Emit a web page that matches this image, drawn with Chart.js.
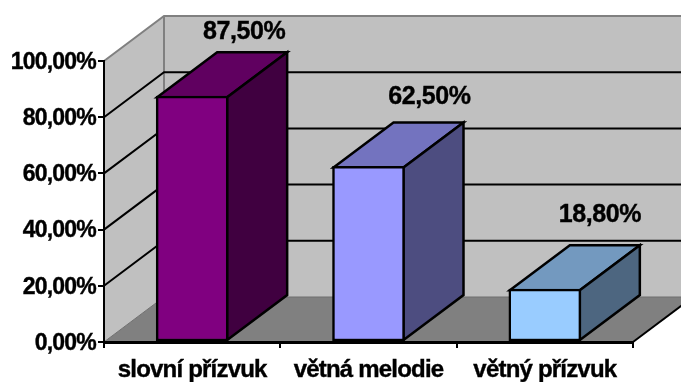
<!DOCTYPE html>
<html>
<head>
<meta charset="utf-8">
<title>Přízvuk a melodie</title>
<script src="https://cdn.jsdelivr.net/npm/chart.js@4"></script>
<style>
  html, body { margin: 0; padding: 0; background: #ffffff; }
  canvas { display: block; }
</style>
</head>
<body>
<canvas id="myChart" width="681" height="382"></canvas>
<script>
'use strict';

//chart data
let categories = ['slovní přízvuk', 'větná melodie', 'větný přízvuk'];
let percentValues = [87.5, 62.5, 18.8];
let frontColors = ['#800080', '#9999ff', '#99ccff'];
let topColors = ['#600060', '#7373bf', '#7399bf'];
let sideColors = ['#400040', '#4d4d80', '#4d6680'];

//depth of the fake 3d box
let depthX = 60;
let depthY = 45;

//value labels sit by hand above each bar, measured from the front top edge
let labelShiftX = [52, 61, 55];
let labelShiftY = [-64, -69, -74];

function formatPercent(value){
  return value.toFixed(2).replace('.', ',') + '%';
}

function fillShape(ctx, points, fill, stroke, lineWidth){
  ctx.beginPath();
  ctx.moveTo(points[0][0], points[0][1]);
  for(let i = 1; i < points.length; i++){
    ctx.lineTo(points[i][0], points[i][1]);
  }
  ctx.closePath();
  ctx.fillStyle = fill;
  ctx.fill();
  if(stroke){
    ctx.strokeStyle = stroke;
    ctx.lineWidth = lineWidth;
    ctx.lineJoin = 'miter';
    ctx.stroke();
  }
}

//walls, floor and gridlines behind the bars
let boxPlugin = {
  id: 'box',
  beforeDraw(chart){
    let ctx = chart.ctx;
    let xScale = chart.scales.x;
    let yScale = chart.scales.y;
    let left = xScale.left;
    let right = xScale.right;
    let top = yScale.top;
    let bottom = yScale.bottom;

    //tighter tracking for the axis text
    ctx.letterSpacing = '-0.8px';

    ctx.save();
    fillShape(ctx, [[left, top], [left + depthX, top - depthY], [left + depthX, bottom - depthY], [left, bottom]], '#c0c0c0');
    fillShape(ctx, [[left + depthX, top - depthY], [right + depthX, top - depthY], [right + depthX, bottom - depthY], [left + depthX, bottom - depthY]], '#c0c0c0');

    //wall outline
    ctx.strokeStyle = '#808080';
    ctx.lineWidth = 2;
    ctx.beginPath();
    ctx.moveTo(left, top);
    ctx.lineTo(left + depthX, top - depthY);
    ctx.lineTo(right + depthX, top - depthY);
    ctx.moveTo(left + depthX, top - depthY);
    ctx.lineTo(left + depthX, bottom - depthY);
    ctx.stroke();

    //gridlines run along the side wall and then across the back
    ctx.strokeStyle = '#000000';
    ctx.lineWidth = 2;
    yScale.ticks.forEach(tick => {
      if(tick.value === yScale.min || tick.value === yScale.max){
        return;
      }
      let y = yScale.getPixelForValue(tick.value);
      ctx.beginPath();
      ctx.moveTo(left, y);
      ctx.lineTo(left + depthX, y - depthY);
      ctx.lineTo(right + depthX, y - depthY);
      ctx.stroke();
    });

    fillShape(ctx, [[left, bottom], [left + depthX, bottom - depthY], [right + depthX, bottom - depthY], [right, bottom]], '#808080');
    ctx.strokeStyle = '#6e6e6e';
    ctx.lineWidth = 1;
    ctx.beginPath();
    ctx.moveTo(left, bottom);
    ctx.lineTo(left + depthX, bottom - depthY);
    ctx.lineTo(right + depthX, bottom - depthY);
    ctx.stroke();

    //right edge of the floor
    ctx.strokeStyle = '#000000';
    ctx.lineWidth = 2;
    ctx.beginPath();
    ctx.moveTo(right, bottom);
    ctx.lineTo(right + depthX, bottom - depthY);
    ctx.stroke();
    ctx.restore();
  },
  beforeDatasetsDraw(chart){
    let ctx = chart.ctx;
    let bars = chart.getDatasetMeta(0).data;
    ctx.save();
    bars.forEach((bar, i) => {
      let x0 = bar.x - bar.width / 2 + 1;
      let x1 = bar.x + bar.width / 2 - 1;
      let yTop = bar.y + 1;
      let yBase = bar.base - 1;
      fillShape(ctx, [[x0, yTop], [x0 + depthX, yTop - depthY], [x1 + depthX, yTop - depthY], [x1, yTop]], topColors[i], '#000000', 2.5);
      fillShape(ctx, [[x1, yTop], [x1 + depthX, yTop - depthY], [x1 + depthX, yBase - depthY], [x1, yBase]], sideColors[i], '#000000', 2.5);
    });
    ctx.restore();
  },
  afterDraw(chart){
    let ctx = chart.ctx;
    let bars = chart.getDatasetMeta(0).data;
    ctx.save();
    ctx.letterSpacing = '-0.4px';
    ctx.fillStyle = '#000000';
    ctx.strokeStyle = '#000000';
    ctx.lineWidth = 0.4;
    ctx.font = 'bold 25px "Liberation Sans"';
    ctx.textAlign = 'center';
    ctx.textBaseline = 'middle';
    bars.forEach((bar, i) => {
      let label = formatPercent(percentValues[i]);
      ctx.fillText(label, bar.x + labelShiftX[i], bar.y + labelShiftY[i]);
      ctx.strokeText(label, bar.x + labelShiftX[i], bar.y + labelShiftY[i]);
    });
    ctx.restore();
  }
};

new Chart(document.getElementById('myChart'), {
  type: 'bar',
  data: {
    labels: categories,
    datasets: [{
      data: percentValues,
      backgroundColor: frontColors,
      borderColor: '#000000',
      borderWidth: 2.5,
      borderSkipped: false,
      barThickness: 72
    }]
  },
  options: {
    responsive: false,
    animation: false,
    events: [],
    layout: {
      padding: { top: 61, right: 48, bottom: 0, left: 0 }
    },
    plugins: {
      legend: { display: false },
      tooltip: { enabled: false }
    },
    scales: {
      x: {
        afterFit(scale){
          scale.height = 40;
        },
        border: { color: '#000000', width: 3 },
        grid: { drawOnChartArea: false, color: '#000000', lineWidth: 2, tickLength: 6 },
        ticks: {
          color: '#000000',
          padding: 8,
          maxRotation: 0,
          autoSkip: false,
          textStrokeColor: '#000000',
          textStrokeWidth: 0.4,
          font: { family: 'Liberation Sans', weight: 'bold', size: 24 }
        }
      },
      y: {
        min: 0,
        max: 100,
        afterFit(scale){
          scale.width = 104;
        },
        border: { color: '#000000', width: 2 },
        grid: { drawOnChartArea: false, color: '#000000', lineWidth: 2, tickLength: 6 },
        ticks: {
          stepSize: 20,
          color: '#000000',
          padding: 2,
          labelOffset: 1.5,
          textStrokeColor: '#000000',
          textStrokeWidth: 0.4,
          callback: value => formatPercent(value),
          font: { family: 'Liberation Sans', weight: 'bold', size: 23 }
        }
      }
    }
  },
  plugins: [boxPlugin]
});
</script>
</body>
</html>
